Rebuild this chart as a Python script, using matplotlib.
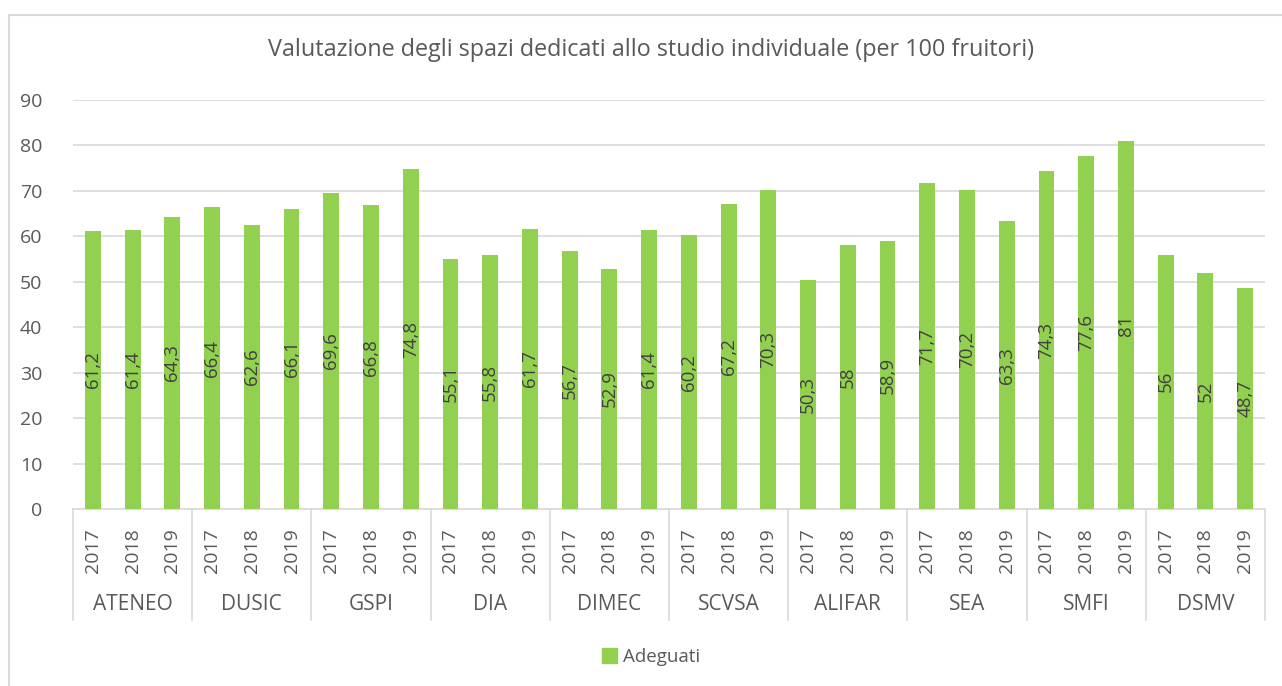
import matplotlib.pyplot as plt
import numpy as np
from matplotlib.patches import Patch
import matplotlib.transforms as mtransforms

plt.rcParams['font.family'] = ['Open Sans', 'DejaVu Sans']

groups = ['ATENEO', 'DUSIC', 'GSPI', 'DIA', 'DIMEC', 'SCVSA', 'ALIFAR', 'SEA', 'SMFI', 'DSMV']
years = ['2017', '2018', '2019']
adeguati = [61.2, 61.4, 64.3, 66.4, 62.6, 66.1, 69.6, 66.8, 74.8,
            55.1, 55.8, 61.7, 56.7, 52.9, 61.4, 60.2, 67.2, 70.3,
            50.3, 58, 58.9, 71.7, 70.2, 63.3, 74.3, 77.6, 81, 56, 52, 48.7]

green = '#92D050'
txt = '#595959'
grid_c = '#D9D9D9'

fig = plt.figure(figsize=(12.82, 6.86), dpi=100)
# outer chart border (left and top edges visible)
fig.add_artist(plt.Line2D([9 / 1282, 9 / 1282, 1.01], [-0.01, 1 - 15 / 686, 1 - 15 / 686],
                          transform=fig.transFigure, color='#D9D9D9', linewidth=1.5))

ax = fig.add_axes([73 / 1282, 1 - 509 / 686, (1265 - 73) / 1282, 409 / 686])

n = len(adeguati)
x = np.arange(n)
ax.bar(x, adeguati, width=0.4, color=green, zorder=3)
ax.set_xlim(-0.5, n - 0.5)
ax.set_ylim(0, 90)
ax.set_yticks(range(0, 91, 10))
ax.yaxis.grid(True, color=grid_c, linewidth=1.2, zorder=0)
for s in ['top', 'right', 'left']:
    ax.spines[s].set_visible(False)
ax.spines['bottom'].set_color(grid_c)
ax.spines['bottom'].set_linewidth(1.2)
ax.tick_params(axis='y', length=0, labelsize=14, labelcolor=txt, pad=22)

# data labels
for xi, v in zip(x, adeguati):
    ax.text(xi, v / 2, f'{v:g}'.replace('.', ','), rotation=90, ha='center', va='center',
            fontsize=13.5, color='#404040', zorder=4)

# year tick labels
ax.set_xticks(x)
ax.set_xticklabels(years * len(groups), rotation=90, fontsize=14, color=txt, va='top')
ax.tick_params(axis='x', length=0, pad=14)

# group labels and separators
trans = mtransforms.blended_transform_factory(ax.transData, ax.transAxes)
px = 1 / 409
for i, g in enumerate(groups):
    ax.text(3 * i + 1, -(605 - 509) * px, g, transform=trans, ha='center', va='center',
            fontsize=15, color=txt)
for k in range(len(groups) + 1):
    ax.plot([3 * k - 0.5, 3 * k - 0.5], [0, -(620 - 509) * px], transform=trans,
            color=grid_c, linewidth=1.2, clip_on=False)

fig.text(651 / 1282, 1 - 50 / 686, 'Valutazione degli spazi dedicati allo studio individuale (per 100 fruitori)',
         ha='center', va='center', fontsize=16.8, color=txt)

fig.legend(handles=[Patch(color=green, label='Adeguati')], loc='center',
           bbox_to_anchor=(651 / 1282, 1 - 657 / 686), frameon=False, fontsize=13.5,
           labelcolor=txt, handlelength=0.8, handleheight=0.8, handletextpad=0.3)

fig.savefig('out.png', dpi=100)
